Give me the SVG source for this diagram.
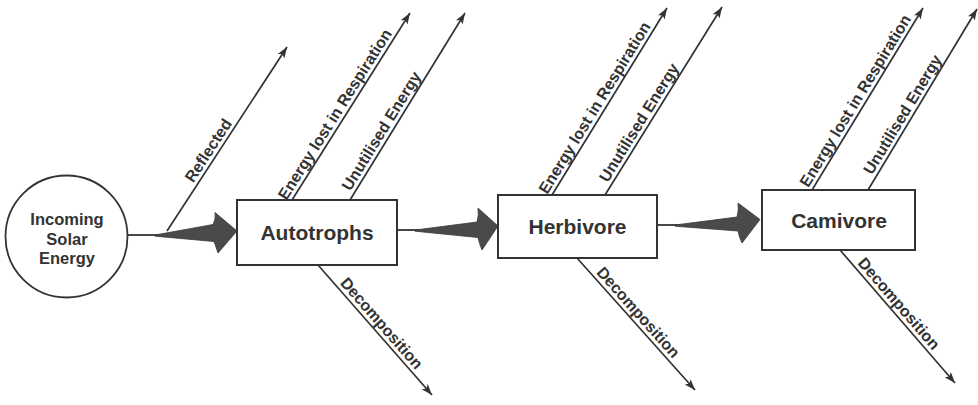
<svg xmlns="http://www.w3.org/2000/svg" width="978" height="405" viewBox="0 0 978 405">
  <style>
    .ln { stroke: #333; stroke-width: 1.7; fill: none; }
    .thin { stroke: #333; stroke-width: 1.8; fill: none; }
    .box { fill: #fff; stroke: #333; stroke-width: 2; }
    .fat { fill: #4a4a4a; stroke: #3a3a3a; stroke-width: 0.8; }
    .lbl { font-family: "Liberation Sans", Arial, sans-serif; font-weight: bold; font-size: 16px; fill: #333; text-anchor: middle; }
    .node { font-family: "Liberation Sans", Arial, sans-serif; font-weight: bold; font-size: 21px; fill: #333; text-anchor: middle; }
    .sun { font-family: "Liberation Sans", Arial, sans-serif; font-weight: bold; font-size: 16.5px; fill: #333; text-anchor: middle; }
  </style>
  <defs>
    <marker id="ah" markerUnits="userSpaceOnUse" markerWidth="12" markerHeight="9" refX="11" refY="4" orient="auto">
      <path d="M0,0 L11,4 L0,8 L2.5,4 Z" fill="#333"/>
    </marker>
  </defs>
  <rect width="978" height="405" fill="#fff"/>

  <g id="connectors">
    <!-- main flow -->
    <line class="thin" x1="128" y1="235" x2="160" y2="235"/>
    <path class="fat" d="M155,235 L213,224.5 Q216,219 215,212.5 L237,231 L218,253 Q216,247 214,241.5 L155,236.2 Z"/>
    <line class="thin" x1="397" y1="230" x2="420" y2="230"/>
    <path class="fat" d="M415,230 L477,222 Q479,215 478,208 L498,226 L482,250 Q479,243 478,237.5 L415,231.2 Z"/>
    <line class="thin" x1="657" y1="225" x2="680" y2="225"/>
    <path class="fat" d="M675,225 L737,217 Q739,210 738,203 L760,219.5 L742,243 Q739,237 738,231 L675,226.2 Z"/>

    <!-- losses -->
    <line class="ln" x1="167" y1="231" x2="287" y2="47" marker-end="url(#ah)"/>
    <line class="ln" x1="292" y1="200" x2="410" y2="13" marker-end="url(#ah)"/>
    <line class="ln" x1="350" y1="200" x2="465" y2="13" marker-end="url(#ah)"/>
    <line class="ln" x1="318" y1="265" x2="432" y2="395" marker-end="url(#ah)"/>
    <line class="ln" x1="552" y1="195" x2="667" y2="8" marker-end="url(#ah)"/>
    <line class="ln" x1="605" y1="195" x2="722" y2="7" marker-end="url(#ah)"/>
    <line class="ln" x1="577" y1="258" x2="695" y2="390" marker-end="url(#ah)"/>
    <line class="ln" x1="812" y1="190" x2="923" y2="8" marker-end="url(#ah)"/>
    <line class="ln" x1="868" y1="190" x2="977" y2="9" marker-end="url(#ah)"/>
    <line class="ln" x1="840" y1="250" x2="955" y2="383" marker-end="url(#ah)"/>

    <text class="lbl" transform="translate(216.2,155.6) rotate(-56.9)" x="0" y="-4">Reflected</text>
    <text class="lbl" transform="translate(342.9,119.4) rotate(-57.75)" x="0" y="-4">Energy lost in Respiration</text>
    <text class="lbl" transform="translate(389.4,135.9) rotate(-58.4)" x="0" y="-4">Unutilised Energy</text>
    <text class="lbl" transform="translate(374.5,329.5) rotate(48.75)" x="0" y="-4">Decomposition</text>
    <text class="lbl" transform="translate(602.6,112.7) rotate(-58.4)" x="0" y="-4">Energy lost in Respiration</text>
    <text class="lbl" transform="translate(647,127.5) rotate(-58.1)" x="0" y="-4">Unutilised Energy</text>
    <text class="lbl" transform="translate(631.3,318.7) rotate(48.2)" x="0" y="-4">Decomposition</text>
    <text class="lbl" transform="translate(863.4,105.7) rotate(-58.6)" x="0" y="-4">Energy lost in Respiration</text>
    <text class="lbl" transform="translate(910.7,119.4) rotate(-58.85)" x="0" y="-4">Unutilised Energy</text>
    <text class="lbl" transform="translate(891.8,309.8) rotate(49.15)" x="0" y="-4">Decomposition</text>
  </g>

  <g id="solar">
    <circle cx="66.5" cy="236.5" r="61" fill="#fff" stroke="#333" stroke-width="1.8"/>
    <text class="sun" x="67" y="225">Incoming</text>
    <text class="sun" x="67" y="244.5">Solar</text>
    <text class="sun" x="67" y="264">Energy</text>
  </g>

  <g id="autotrophs">
    <rect class="box" x="237" y="200" width="160" height="65"/>
    <text class="node" x="317" y="240">Autotrophs</text>
  </g>

  <g id="herbivore">
    <rect class="box" x="498" y="195" width="159" height="63"/>
    <text class="node" x="577.5" y="233.5">Herbivore</text>
  </g>

  <g id="carnivore">
    <rect class="box" x="762" y="190" width="153" height="60"/>
    <text class="node" x="839" y="227.5">Camivore</text>
  </g>
</svg>
